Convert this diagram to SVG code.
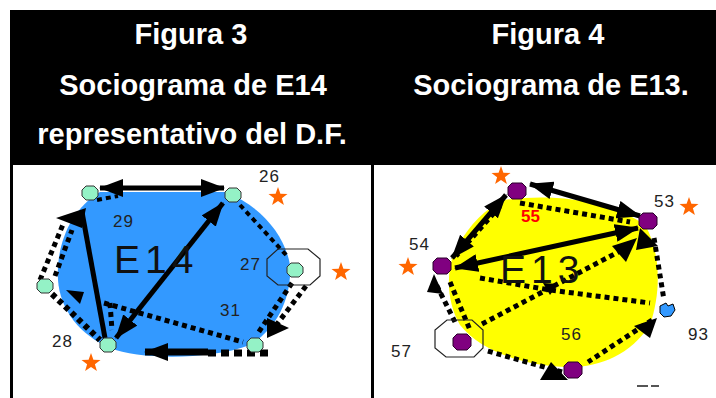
<svg xmlns="http://www.w3.org/2000/svg" xmlns:xlink="http://www.w3.org/1999/xlink" width="716" height="398" viewBox="0 0 716 398">
<style>
.hdr{font-family:"Liberation Sans",Arial,sans-serif;font-weight:bold;font-size:29px;fill:#fff;text-anchor:middle}
.lbl{font-family:"Liberation Sans",Arial,sans-serif;font-size:17px;fill:#222;letter-spacing:1px}
.big{font-family:"Liberation Sans",Arial,sans-serif;font-size:39px;fill:#111;letter-spacing:5px}
.solid{stroke:#000;stroke-width:5;fill:none}
.dot{stroke:#000;stroke-width:5;fill:none;stroke-dasharray:5 4}
.dash{stroke:#000;stroke-width:7;fill:none;stroke-dasharray:8 5}
.head{fill:#000}
.star{fill:#ff6600}
.ring{fill:none;stroke:#222;stroke-width:1.2}
</style>
<defs>
<marker id="ah" viewBox="0 0 24 18" markerUnits="userSpaceOnUse" markerWidth="24" markerHeight="18" refX="23" refY="9" orient="auto-start-reverse"><path d="M0,0 L24,9 L0,18 Z" fill="#000"/></marker>
<path id="gnode" d="M-8,-3 L-4,-7 L4,-7 L8,-3 L8,3 L4,7 L-4,7 L-8,3 Z" fill="#94f2c6" stroke="#333" stroke-width="1"/>
<path id="pnode" d="M-9,-4 L-5,-8 L5,-8 L9,-4 L9,4 L5,8 L-5,8 L-9,4 Z" fill="#800080" stroke="#2a002a" stroke-width="1"/>
<polygon id="star" points="0,-10 2.4,-3.3 9.5,-3.1 3.9,1.3 5.9,8.1 0,4.1 -5.9,8.1 -3.9,1.3 -9.5,-3.1 -2.4,-3.3"/>
</defs>
<rect x="0" y="0" width="716" height="398" fill="#fff"/>
<g id="header">
<rect x="10" y="10" width="706" height="155" fill="#000"/>
<text class="hdr" x="191" y="44">Figura 3</text>
<text class="hdr" x="193" y="95">Sociograma de E14</text>
<text class="hdr" x="192" y="144">representativo del D.F.</text>
<text class="hdr" x="548" y="44">Figura 4</text>
<text class="hdr" x="551" y="95">Sociograma de E13.</text>
</g>
<g id="borders">
<rect x="10" y="165" width="3" height="233" fill="#000"/>
<rect x="371" y="165" width="3" height="233" fill="#000"/>
</g>
<!-- Figure 3 -->
<g id="area-e14">
<path d="M100,192 L225,192 C260,205 285,235 290,265 C292,300 275,330 250,345 C210,360 140,360 110,348 C80,335 60,310 58,280 C56,245 70,210 100,192 Z" fill="#3399ff"/>
</g>
<g id="connectors-e14">
<line class="solid" x1="100" y1="188" x2="224" y2="188" marker-start="url(#ah)" marker-end="url(#ah)"/>
<line class="solid" x1="116" y1="338" x2="223" y2="203" marker-start="url(#ah)" marker-end="url(#ah)"/>
<line class="solid" x1="82" y1="212" x2="105" y2="338"/>
<polygon class="head" points="56,218 86,208 82,228"/>
<line class="dot" x1="40" y1="280" x2="64" y2="222"/>
<line class="dot" x1="55" y1="276" x2="72" y2="230"/>
<line class="dot" x1="52" y1="294" x2="100" y2="340" style="stroke-width:6"/>
<polygon class="head" points="66,290 84,292 80,304"/>
<line class="dot" x1="97" y1="200" x2="118" y2="196" style="stroke-width:4"/>
<line class="dot" x1="240" y1="205" x2="288" y2="257" style="stroke-width:4"/>
<line class="dot" x1="292" y1="283" x2="258" y2="333"/>
<line class="dot" x1="306" y1="286" x2="274" y2="328"/>
<polygon class="head" points="267,318 289,328 267,338"/>
<line class="dot" x1="104" y1="303" x2="243" y2="342"/>
<line class="dot" x1="110" y1="303" x2="112" y2="330"/>
<line class="solid" x1="145" y1="352" x2="208" y2="352" style="stroke-width:7" marker-start="url(#ah)"/>
<line class="dash" x1="208" y1="353" x2="268" y2="353"/>
</g>
<g id="node-29"><use xlink:href="#gnode" href="#gnode" x="90" y="193"/><text class="lbl" x="113" y="227">29</text></g>
<g id="node-26"><use xlink:href="#gnode" href="#gnode" x="233" y="195"/><text class="lbl" x="259" y="182">26</text><use xlink:href="#star" href="#star" class="star" x="278" y="197"/></g>
<g id="node-27"><polygon class="ring" points="278,249 308,249 320,259 320,276 310,285 278,285 267,276 267,259"/><use xlink:href="#gnode" href="#gnode" x="295" y="270"/><text class="lbl" x="240" y="270">27</text><use xlink:href="#star" href="#star" class="star" x="341" y="272"/></g>
<g id="node-left"><use xlink:href="#gnode" href="#gnode" x="45" y="286"/></g>
<g id="node-28"><use xlink:href="#gnode" href="#gnode" x="108" y="345"/><text class="lbl" x="52" y="347">28</text><use xlink:href="#star" href="#star" class="star" x="91" y="363"/></g>
<g id="node-31"><use xlink:href="#gnode" href="#gnode" x="255" y="345"/><text class="lbl" x="220" y="316">31</text></g>
<text class="big" x="114" y="273">E14</text>
<!-- Figure 4 -->
<g id="area-e13">
<path d="M505,200 C560,192 615,203 645,225 C660,250 662,290 650,325 C630,355 600,368 565,367 C520,365 480,350 460,325 C445,300 446,265 458,245 C470,225 485,208 505,200 Z" fill="#ffff00"/>
</g>
<g id="connectors-e13">
<line class="solid" x1="530" y1="184" x2="640" y2="216" marker-start="url(#ah)" marker-end="url(#ah)"/>
<line class="solid" x1="506" y1="195" x2="452" y2="258" marker-start="url(#ah)" marker-end="url(#ah)"/>
<line class="solid" x1="455" y1="268" x2="638" y2="228" marker-start="url(#ah)" marker-end="url(#ah)"/>
<line class="dot" x1="520" y1="203" x2="630" y2="222"/>
<line class="dot" x1="500" y1="206" x2="456" y2="256"/>
<line class="dot" x1="654" y1="238" x2="664" y2="300"/>
<polygon class="head" points="640,228 658,246 636,250"/>
<line class="dot" x1="652" y1="320" x2="588" y2="362"/>
<polygon class="head" points="657,318 650,338 634,326"/>
<line class="dot" x1="562" y1="372" x2="484" y2="350"/>
<polygon class="head" points="540,380 568,380 551,362"/>
<line class="dot" x1="455" y1="322" x2="436" y2="284"/>
<polygon class="head" points="434,274 443,294 427,292"/>
<line class="dot" x1="450" y1="282" x2="470" y2="330"/>
<polyline class="dot" points="480,278 550,290 650,303"/>
<polygon class="head" points="543,283 558,284 550,295"/>
<line class="dot" x1="482" y1="324" x2="622" y2="250"/>
<polygon class="head" points="637,238 626,262 612,246"/>
</g>
<g id="node-55"><use xlink:href="#pnode" href="#pnode" x="517" y="191"/><text class="lbl" x="521" y="222" style="fill:#ff0000;font-weight:bold;letter-spacing:0">55</text><use xlink:href="#star" href="#star" class="star" x="501" y="176"/></g>
<g id="node-53"><use xlink:href="#pnode" href="#pnode" x="648" y="221"/><text class="lbl" x="654" y="207">53</text><use xlink:href="#star" href="#star" class="star" x="689" y="207"/></g>
<g id="node-54"><use xlink:href="#pnode" href="#pnode" x="442" y="266"/><text class="lbl" x="409" y="250">54</text><use xlink:href="#star" href="#star" class="star" x="408" y="267"/></g>
<g id="node-57"><polygon class="ring" points="447,320 472,320 483,330 483,348 474,357 446,357 435,348 435,330"/><use xlink:href="#pnode" href="#pnode" x="462" y="342"/><text class="lbl" x="391" y="357">57</text></g>
<g id="node-56"><use xlink:href="#pnode" href="#pnode" x="573" y="370"/><text class="lbl" x="561" y="340">56</text></g>
<g id="node-93"><polygon points="660,306 666,303 668,306 673,304 675,310 671,316 664,317 660,313" fill="#3399ff" stroke="#000" stroke-width="1"/><text class="lbl" x="688" y="340">93</text></g>
<text class="big" x="500" y="283">E13</text>
<g id="marks"><rect x="637" y="385" width="11" height="2" fill="#555"/><rect x="651" y="385" width="8" height="2" fill="#555"/></g>
</svg>
